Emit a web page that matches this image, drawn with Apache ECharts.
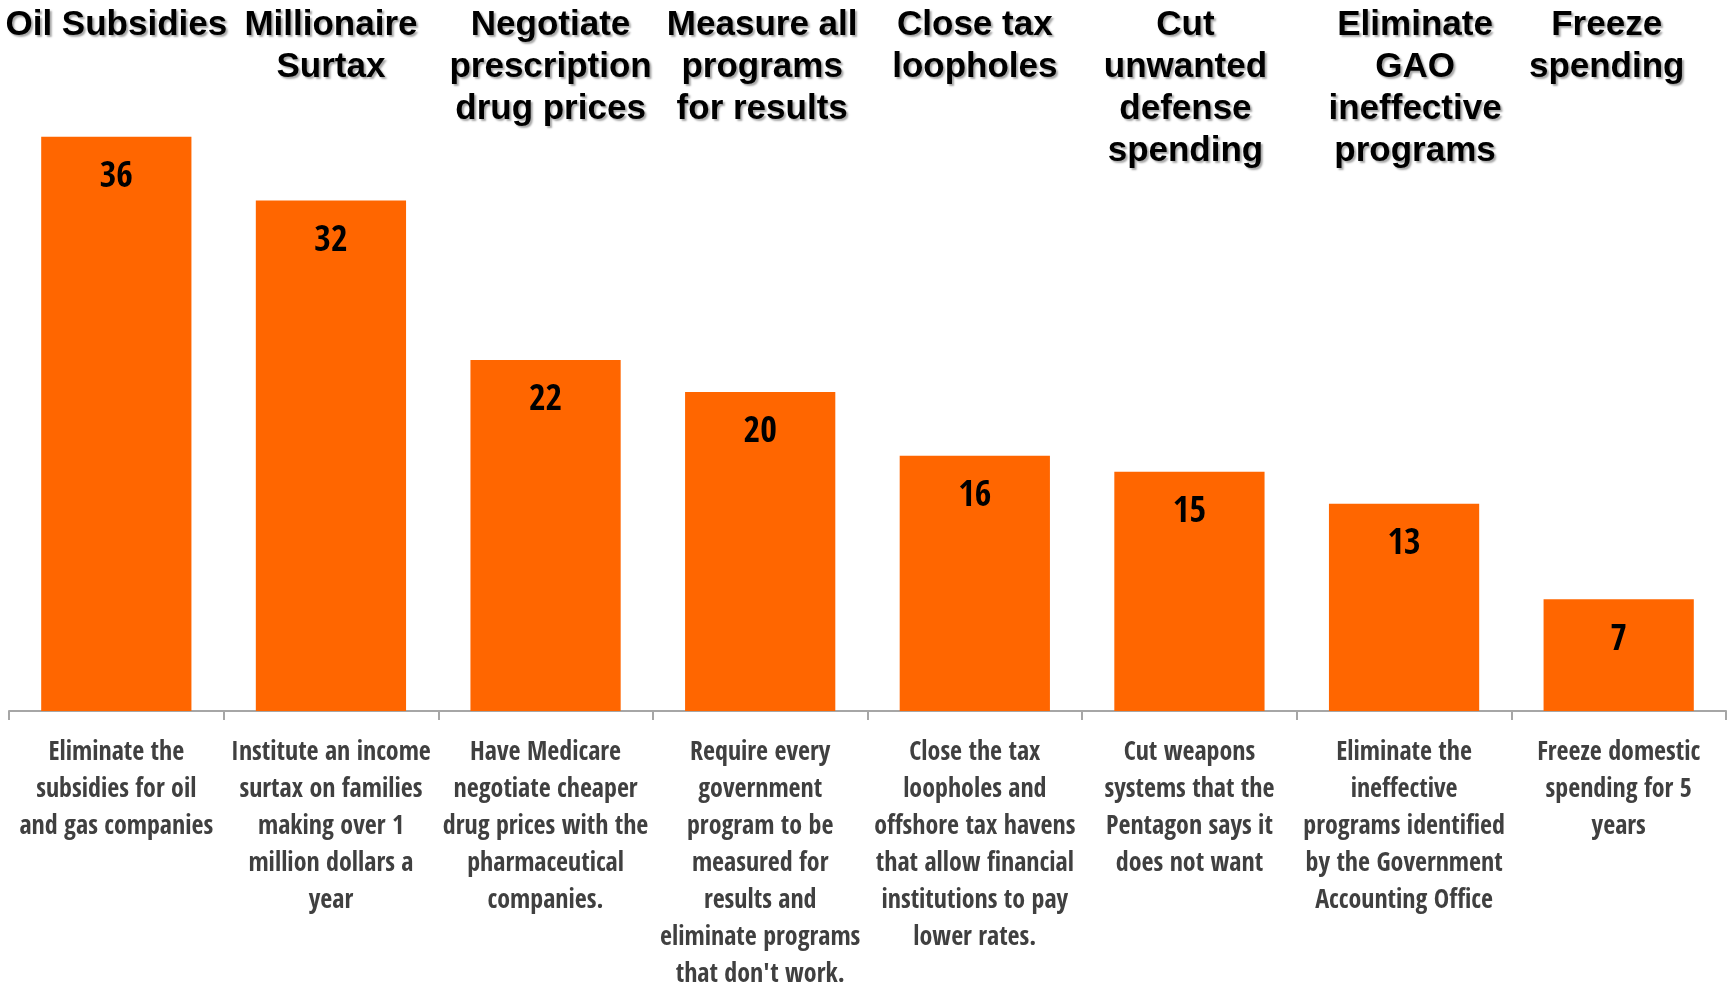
<!DOCTYPE html>
<html><head><meta charset="utf-8">
<script src="https://cdn.jsdelivr.net/npm/echarts@6/dist/echarts.min.js"></script>
<style>html,body{margin:0;padding:0;background:#fff}#c{width:1730px;height:983px}</style>
</head><body><div id="c"></div>
<script>
const topTitles = ["Oil Subsidies","Millionaire\nSurtax","Negotiate\nprescription\ndrug prices","Measure all\nprograms\nfor results","Close tax\nloopholes","Cut\nunwanted\ndefense\nspending","Eliminate\nGAO\nineffective\nprograms","Freeze\nspending"];
const categories = [
 "Eliminate the\nsubsidies for oil\nand gas companies",
 "Institute an income\nsurtax on families\nmaking over 1\nmillion dollars a\nyear",
 "Have Medicare\nnegotiate cheaper\ndrug prices with the\npharmaceutical\ncompanies.",
 "Require every\ngovernment\nprogram to be\nmeasured for\nresults and\neliminate programs\nthat don't work.",
 "Close the tax\nloopholes and\noffshore tax havens\nthat allow financial\ninstitutions to pay\nlower rates.",
 "Cut weapons\nsystems that the\nPentagon says it\ndoes not want",
 "Eliminate the\nineffective\nprograms identified\nby the Government\nAccounting Office",
 "Freeze domestic\nspending for 5\nyears"
];
const values = [36,32,22,20,16,15,13,7];

const NARROW = "'Open Sans Condensed', 'Roboto Condensed', sans-serif";
const titleStyle = {color:'#000',fontFamily:'Liberation Sans',fontWeight:'bold',fontSize:35,lineHeight:42,
  textShadowColor:'rgba(0,0,0,0.35)',textShadowOffsetX:2,textShadowOffsetY:2,textShadowBlur:2};
// small horizontal nudges of the top titles (left/right padding)
const titlePad = [[0,0],[0,0],[0,0,0,10],[0,0,0,4],[0,0],[0,8,0,0],[0,0,0,22],[0,24,0,0]];
const rich = {};
titlePad.forEach((p,i)=>{ rich['t'+i] = Object.assign({}, titleStyle, {padding: p.length===4?[0,p[1],0,p[3]]:[0,0,0,0]}); });

const chart = echarts.init(document.getElementById('c'));
chart.setOption({
  animation:false,
  grid:{left:9,right:4,top:73,bottom:272,containLabel:false,outerBoundsMode:'none'},
  xAxis:[{
    type:'category', data:categories, position:'bottom',
    axisLine:{lineStyle:{color:'#a6a6a6',width:2}},
    axisTick:{show:true,length:9,lineStyle:{color:'#a6a6a6',width:2}},
    axisLabel:{interval:0,margin:24,color:'#404040',fontFamily:NARROW,fontSize:26,lineHeight:37,verticalAlign:'top'}
  },{
    type:'category', data:topTitles, position:'top',
    axisLine:{show:false}, axisTick:{show:false},
    axisLabel:Object.assign({interval:0,margin:69,verticalAlign:'top',rich:rich,
      formatter:(v,i)=>v.split('\n').map(s=>'{t'+i+'|'+s+'}').join('\n')}, titleStyle)
  }],
  yAxis:{type:'value',min:0,max:40,show:false,splitLine:{show:false}},
  series:[{
    type:'bar', data:values, xAxisIndex:0, barWidth:'70%',
    itemStyle:{color:'#FF6600'},
    label:{show:true,position:'insideTop',distance:23,color:'#000',fontFamily:NARROW,fontWeight:'bold',fontSize:36,lineHeight:36}
  }]
});
</script></body></html>
